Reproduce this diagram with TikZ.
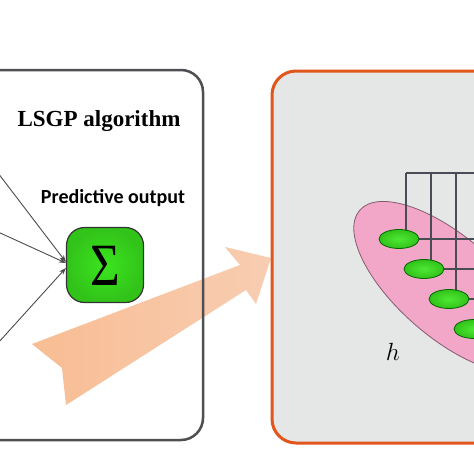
\documentclass[tikz,border=0pt]{standalone}
\usepackage{fontspec}
\setmainfont{Liberation Serif}
\newfontfamily\labelfont{Carlito}
\usepackage{graphicx}
\usetikzlibrary{arrows.meta, shapes.geometric}
\tikzset{>=stealth}
\definecolor{boxgray}{HTML}{4D4F52}
\definecolor{boxorange}{HTML}{E0561C}
\definecolor{panelgray}{HTML}{E4E7E6}
\definecolor{sumgreen}{HTML}{3BE51E}
\definecolor{peach}{HTML}{F7C4A4}
\definecolor{pinkset}{HTML}{F2A6C8}
\definecolor{wire}{HTML}{4A4C55}

\begin{document}
\begin{tikzpicture}[x=1pt, y=-1pt,
  sumbox/.style = {draw=black!80, line width=1.2pt, rounded corners=18pt,
    minimum width=77pt, minimum height=75pt, inner sep=0pt,
    inner color=sumgreen, outer color=sumgreen!85!black},
  unit/.style = {ellipse, draw=green!40!black, line width=0.8pt,
    minimum width=40pt, minimum height=19pt, inner sep=0pt,
    inner color=sumgreen!90!white, outer color=sumgreen!85!black},
  setblob/.style = {ellipse, draw=black!45!pinkset, line width=0.8pt,
    fill=pinkset, minimum width=234pt, minimum height=100pt},
  feed/.style = {draw=black!70, line width=0.9pt, -{Stealth[length=7pt,width=5pt]}},
  wireline/.style = {draw=wire, line width=2pt}]
	\useasboundingbox (0,0) rectangle (474,474);
	\fill[white] (0,0) rectangle (474,474);
	\shade[left color=peach!90!orange, right color=peach!85!white]
	  (32,344) -- (240,265) -- (225,247) -- (271,258) -- (256,304)
	  -- (246,290) -- (66,405) -- (62,368) -- cycle;
	\draw[boxgray, line width=2.5pt, rounded corners=22pt] (-30,70) rectangle (203,440);
	\draw[boxorange, line width=3pt, fill=panelgray, rounded corners=24pt] (272,71) rectangle (510,443);
	\node[anchor=base, font=\fontsize{23}{27}\selectfont\bfseries] (algo) at (99,126) {LSGP algorithm};
	\node[anchor=base, font=\fontsize{20}{24}\selectfont\labelfont\bfseries] (predout) at (113,203) {Predictive output};
	\node[sumbox] (sum) at (105,265) {};
	\node[anchor=base, font=\fontsize{60}{60}\selectfont] (sigma) at (105,285) {\scalebox{0.85}[1]{Σ}};
	\coordinate (in1) at (-2,173);
	\coordinate (in2) at (-2,232);
	\coordinate (in3) at (-2,343);
	\draw[feed] (in1) -- ([yshift=3pt]sum.west);
	\draw[feed] (in2) -- ([yshift=2pt]sum.west);
	\draw[feed] (in3) -- ([yshift=-3pt]sum.west);
	\node[setblob, rotate=-41] (hset) at (448,287) {};
	\node[font=\fontsize{25}{28}\selectfont] (hlabel) at (393,360) [anchor=base] {$h$};
	\coordinate (top) at (0,173);
	\coordinate (edge) at (480,0);
	\foreach \i in {1,...,4}
	\coordinate (c\i) at (374+25*\i, 209+30*\i);
	\draw[wireline] ([xshift=7pt]c1 |- top) -- (edge |- top);
	\foreach \i in {1,...,4} {
	\draw[wireline] ([xshift=7pt]c\i) -- ([xshift=7pt]c\i |- top);
	\draw[wireline] (c\i) -- (c\i -| edge);
	}
	\foreach \i in {1,...,4}
	\node[unit] (u\i) at (c\i) {};
\end{tikzpicture}
\end{document}
